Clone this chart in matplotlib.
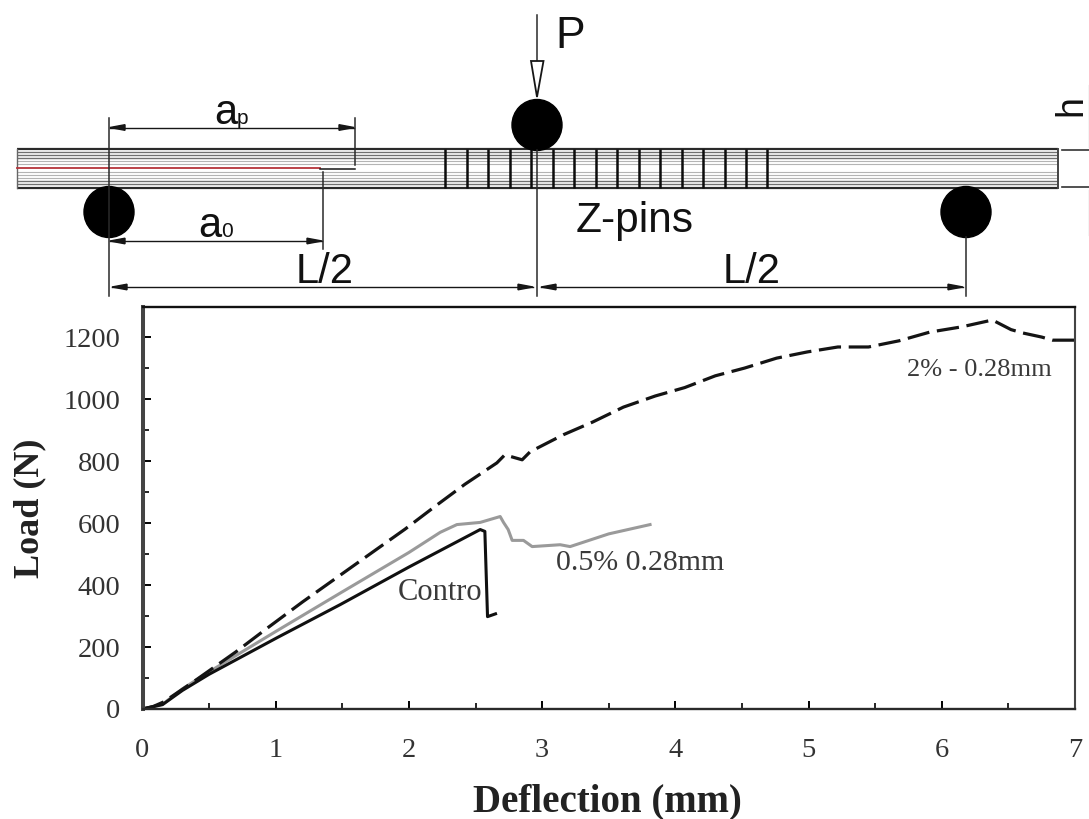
import matplotlib
matplotlib.use("Agg")
import matplotlib.pyplot as plt
from matplotlib.patches import Ellipse, Polygon
from matplotlib.ticker import MultipleLocator

W, H = 1089, 819

# ---- chart data ----
x_dashed = [0, 0.08, 0.16, 0.38, 0.7, 0.94, 1.2, 1.485, 1.75, 1.97, 2.2, 2.42, 2.66, 2.72, 2.85, 2.91, 3.16, 3.38, 3.61, 3.85, 4.07, 4.3, 4.52, 4.76, 4.99, 5.22, 5.45, 5.68, 5.91, 6.15, 6.38, 6.52, 6.61, 6.75, 6.83, 7.0]
y_dashed = [0, 8, 23, 87, 184, 262, 345, 432, 513, 580, 655, 725, 794, 820, 804, 830, 885, 926, 974, 1010, 1037, 1075, 1100, 1132, 1152, 1168, 1168, 1188, 1216, 1233, 1255, 1224, 1213, 1200, 1190, 1190]
x_gray = [0, 0.15, 0.3, 0.5, 1.0, 1.5, 2.0, 2.235, 2.36, 2.535, 2.685, 2.71, 2.745, 2.775, 2.86, 2.925, 3.135, 3.21, 3.5, 3.81]
y_gray = [0, 15, 65, 120, 250, 378, 505, 570, 595, 602, 621, 602, 579, 544, 544, 524, 530, 524, 565, 595]
x_black = [0, 0.15, 0.3, 0.5, 1.01, 1.485, 2.0, 2.535, 2.57, 2.59, 2.65]
y_black = [0, 14, 60, 112, 230, 337, 458, 579, 573, 298, 307]
x_ticks = [0, 1, 2, 3, 4, 5, 6, 7]
y_ticks = [0, 200, 400, 600, 800, 1000, 1200]

# ---- schematic layout, in picture pixels ----
beam_left, beam_right, beam_top, beam_bottom = 17, 1058, 149, 188
beam_dark = [149, 152, 155, 158, 181, 184, 188]
beam_light = [161, 164, 172, 175, 178]
pin_rows = [445, 466.5, 488, 509.5, 531, 552.5, 574, 595.5, 617, 638.5, 660, 681.5, 703, 724.5, 746, 767]
rollers = [(109, 212), (537, 125), (966, 212)]

fig = plt.figure(figsize=(W / 100, H / 100), dpi=100, facecolor="white")

# ---- schematic ----
sk = fig.add_axes([0, 0, 1, 1], zorder=1)
sk.set_xlim(0, W)
sk.set_ylim(H, 0)
sk.axis("off")
sans = "Liberation Sans"
ink = "#161616"

for yy in beam_light:
    sk.plot([beam_left, beam_right], [yy, yy], color="#b4b4b4", lw=0.8, solid_capstyle="butt")
for yy in beam_dark:
    edge = yy in (149, 188)
    sk.plot([beam_left, beam_right], [yy, yy], color="#2a2a2a" if edge else "#707070",
            lw=1.6 if edge else 1.0, solid_capstyle="butt")
sk.plot([beam_left, beam_left], [beam_top, beam_bottom], color="#666666", lw=1)
sk.plot([beam_right, beam_right], [beam_top, beam_bottom], color="#444444", lw=1.4)
sk.plot([17, 320], [168, 168], color="#b5343a", lw=1.3)
sk.plot([320, 355], [168.5, 168.5], color=ink, lw=1.1)
for px in pin_rows:
    sk.plot([px, px], [149, 188], color="#0c0c0c", lw=1.8, solid_capstyle="butt")
for cx, cy in rollers:
    sk.add_patch(Ellipse((cx, cy), 50, 51, color="black", zorder=3))

lines = [([109, 109], [118, 296]), ([355, 355], [118, 165]), ([323, 323], [172, 249]),
         ([537, 537], [15, 61]), ([537, 537], [150, 296]), ([966, 966], [237, 296])]
for lx, ly in lines:
    sk.plot(lx, ly, color="#2a2a2a", lw=1.1, zorder=4)
sk.add_patch(Polygon([(531, 61), (543.5, 61), (537, 97)], closed=True, fc="white", ec=ink, lw=1.3, zorder=4))


def dim(x0, x1, y):
    sk.plot([x0, x1], [y, y], color=ink, lw=1.0)
    for tip, sign in ((x0, 1), (x1, -1)):
        sk.add_patch(Polygon([(tip, y), (tip + sign * 15, y - 2.8), (tip + sign * 15, y + 2.8)],
                             closed=True, color=ink, zorder=4))


dim(110, 354, 127.5)
dim(110, 322, 241)
dim(112, 533, 287)
dim(541, 963, 287)

sk.plot([1062, 1089], [150, 150], color="#333333", lw=1.2)
sk.plot([1062, 1089], [187, 187], color="#333333", lw=1.2)
sk.plot([1088.5, 1088.5], [85, 147], color="#444444", lw=0.8)
sk.plot([1088.5, 1088.5], [190, 235], color="#444444", lw=0.8)

txt = dict(family=sans, color="#111111", va="baseline", ha="left")
sk.text(214, 124, "a", fontsize=30, **txt)
sk.text(237, 124, "p", fontsize=15, **txt)
sk.text(198, 237, "a", fontsize=30, **txt)
sk.text(221, 237, "0", fontsize=15, **txt)
sk.text(555, 48, "P", fontsize=32, **txt)
sk.text(296, 283, "L/2", fontsize=30, **txt)
sk.text(723, 283, "L/2", fontsize=30, **txt)
sk.text(576, 232, "Z-pins", fontsize=30.5, **txt)
sk.text(1081, 116, "h", fontsize=27, rotation=90, rotation_mode="anchor", **txt)

# ---- chart ----
left, right, top, bottom = 142.5, 1075, 307, 709
ax = fig.add_axes([left / W, 1 - bottom / H, (right - left) / W, (bottom - top) / H], zorder=2)
ax.patch.set_alpha(0)
ax.set_xlim(0, 7)
ax.set_ylim(0, 1297)
ax.plot(x_gray, y_gray, color="#9a9a9a", lw=2.2)
ax.plot(x_black, y_black, color="#101010", lw=2.2)
ax.plot(x_dashed, y_dashed, color="#141414", lw=2.3, dashes=(7, 2.4))

serif = "Liberation Serif"
ax.set_xticks(x_ticks)
ax.set_yticks(y_ticks)
ax.xaxis.set_minor_locator(MultipleLocator(0.5))
ax.yaxis.set_minor_locator(MultipleLocator(100))
ax.tick_params(which="major", direction="in", length=6, width=1.4, labelsize=20.5, labelcolor="#333333")
ax.tick_params(which="minor", direction="in", length=4, width=1.2)
ax.tick_params(axis="x", which="major", pad=21)
ax.tick_params(axis="y", which="major", pad=16)
for lab in ax.get_xticklabels() + ax.get_yticklabels():
    lab.set_family(serif)
spine_look = {"left": (2.9, "#444444"), "bottom": (1.7, "#2a2a2a"), "top": (1.7, "#111111"), "right": (1.5, "#444444")}
for side, s in ax.spines.items():
    s.set_linewidth(spine_look[side][0])
    s.set_color(spine_look[side][1])

ax.set_xlabel("Deflection (mm)", family=serif, fontweight="bold", fontsize=28, color="#222222", va="baseline")
ax.xaxis.set_label_coords(0.499, -0.256)
ax.set_ylabel("Load (N)", family=serif, fontweight="bold", fontsize=26, color="#222222")
ax.yaxis.set_label_coords(-0.103, 0.5)

note = dict(family=serif, color="#3a3a3a", va="baseline", ha="left", zorder=5)
sk.text(907, 376, "2% - 0.28mm", fontsize=19, **note)
sk.text(556, 570, "0.5% 0.28mm", fontsize=21.5, **note)
sk.text(398, 600, "Contro", fontsize=22, **note)

fig.savefig("out.png", dpi=100)
